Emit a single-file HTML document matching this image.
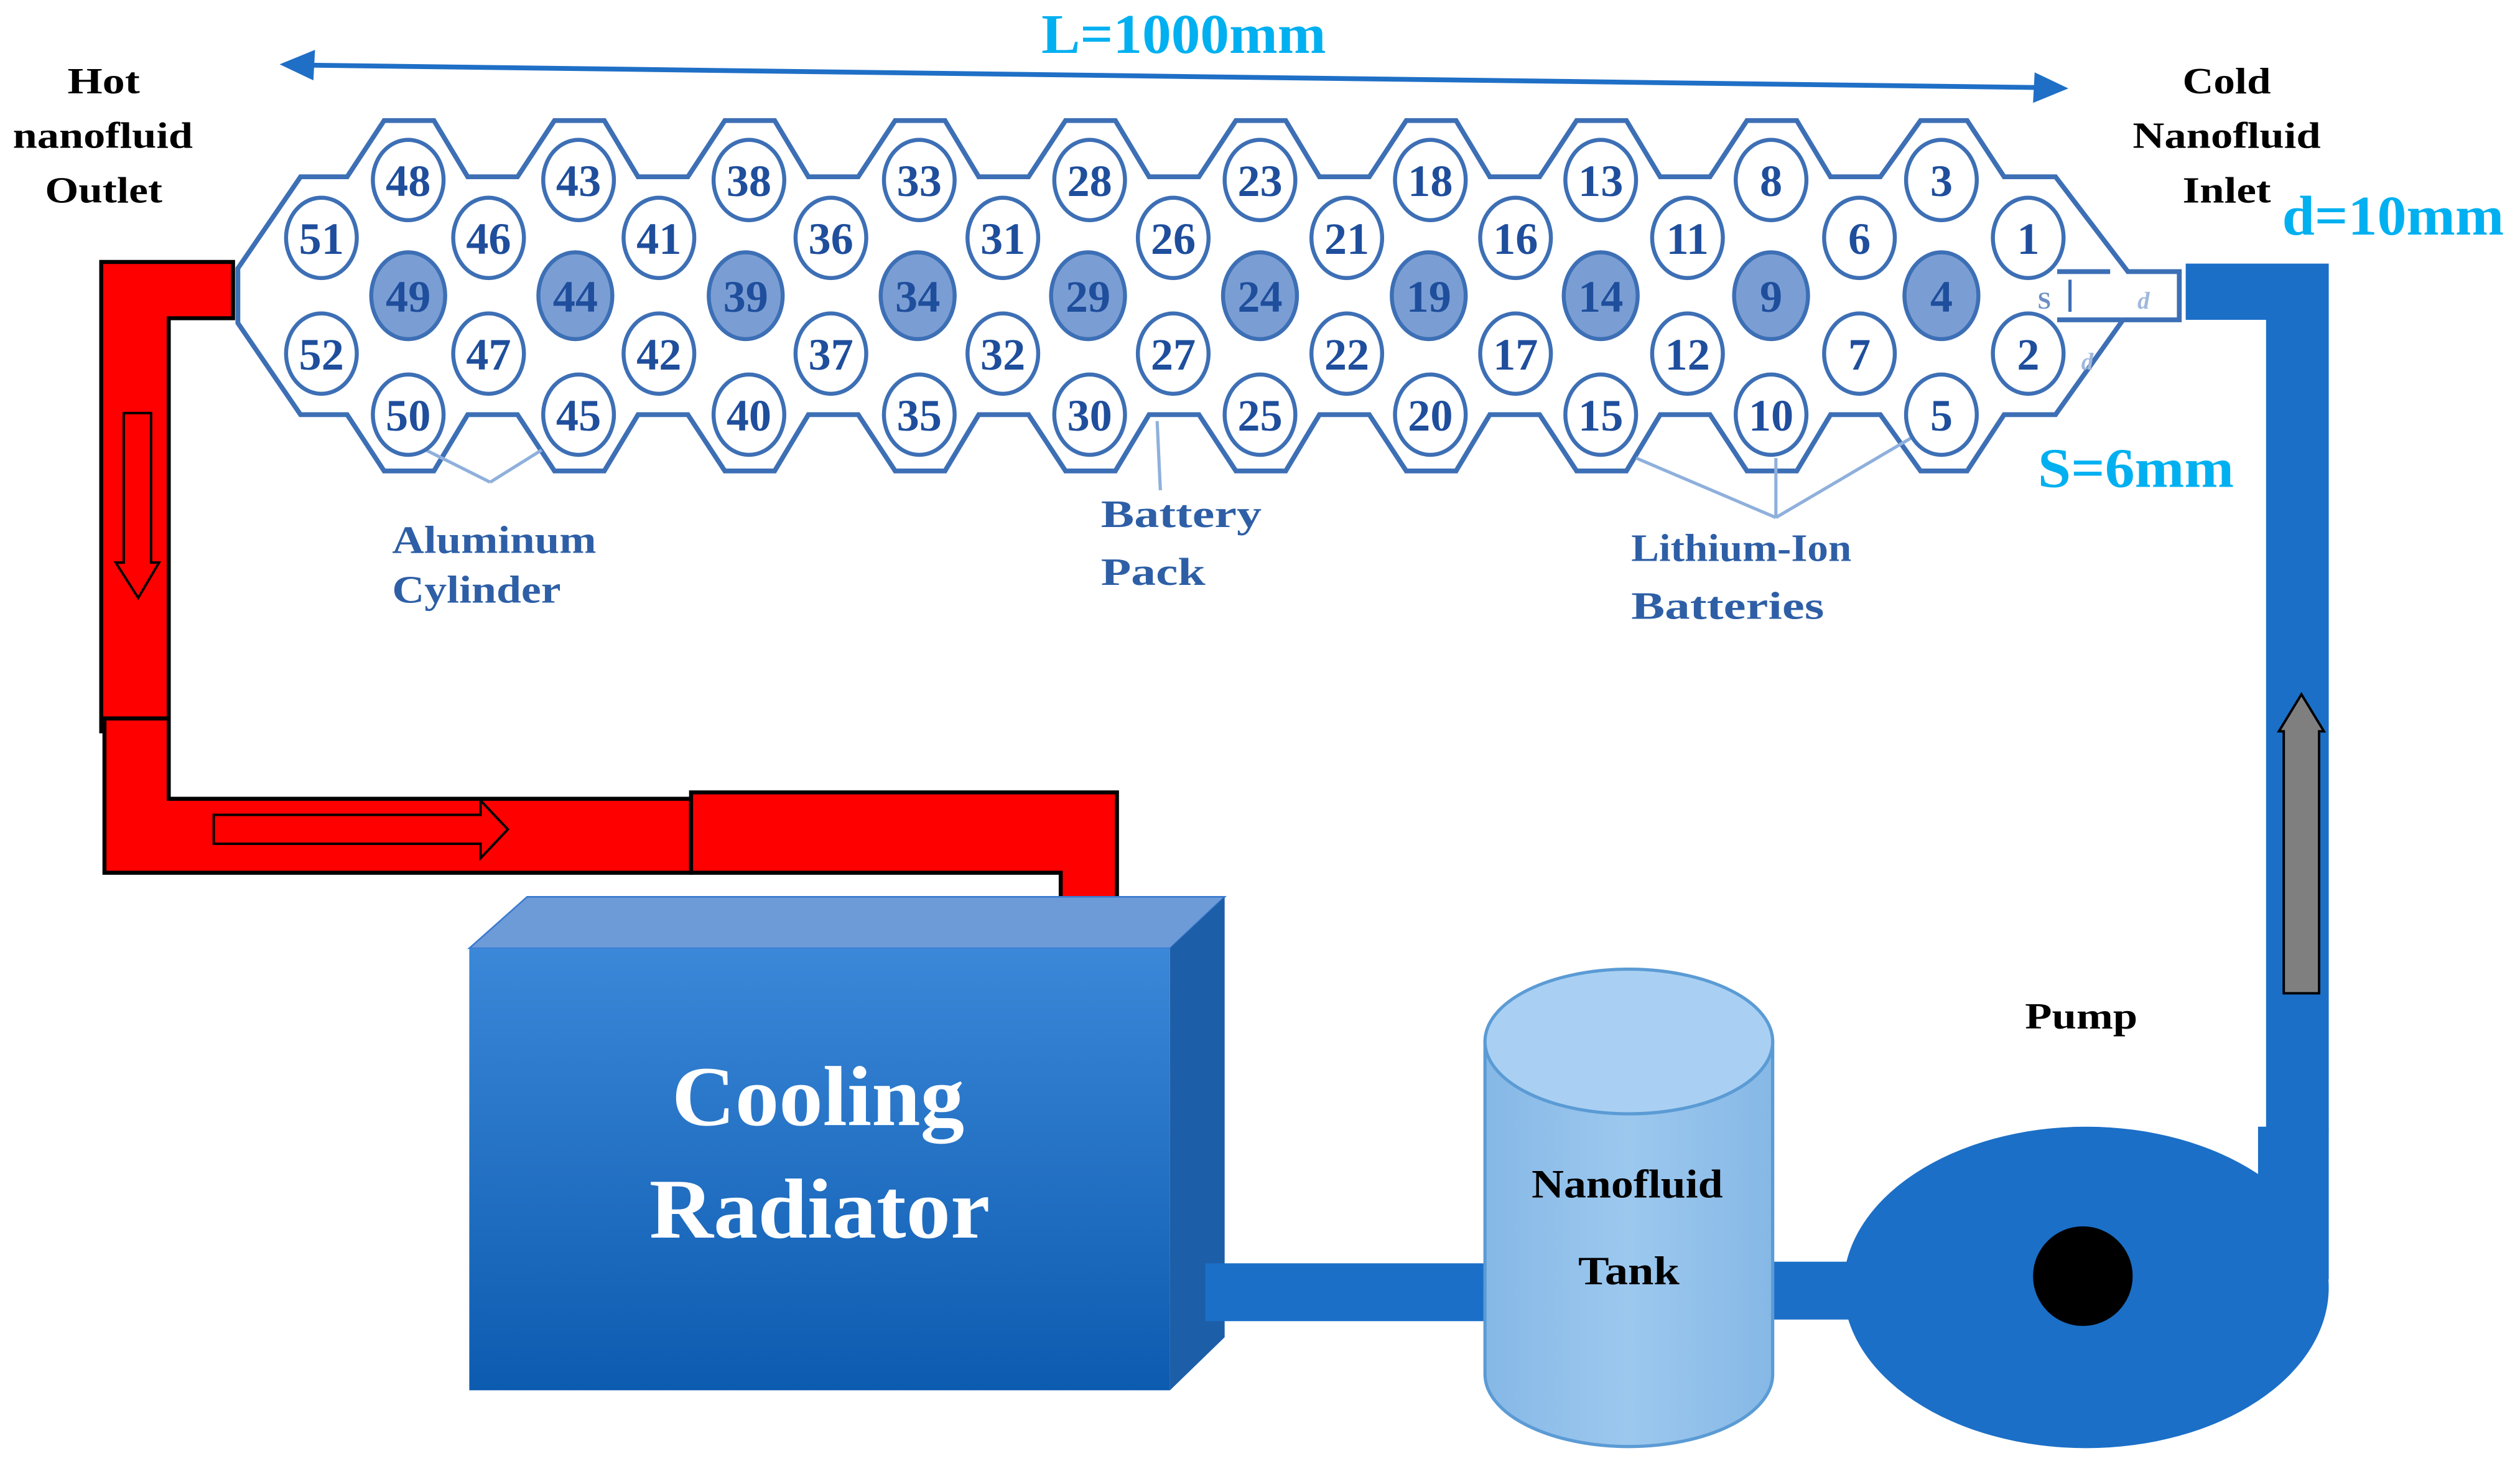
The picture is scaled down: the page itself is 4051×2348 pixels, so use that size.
<!DOCTYPE html>
<html><head><meta charset="utf-8"><style>
html,body{margin:0;padding:0;background:#fff;}
svg{display:block;}
text{font-family:"Liberation Serif",serif;font-weight:bold;}
</style></head><body>
<svg width="4051" height="2348" viewBox="0 0 1568 909" preserveAspectRatio="none" xmlns="http://www.w3.org/2000/svg">
<defs>
<linearGradient id="front" x1="0" y1="0" x2="0" y2="1"><stop offset="0" stop-color="#3b87d8"/><stop offset="1" stop-color="#0c5bb0"/></linearGradient>
<linearGradient id="tank" x1="0" y1="0" x2="1" y2="0"><stop offset="0" stop-color="#86b8e6"/><stop offset="0.5" stop-color="#9cc8ee"/><stop offset="1" stop-color="#86b8e6"/></linearGradient>
</defs>
<rect width="1568" height="909" fill="#fff"/>

<!-- L arrow -->
<line x1="190" y1="40.5" x2="1270" y2="54.5" stroke="#1f6fc6" stroke-width="3"/>
<polygon points="174,40 196,31 195,50" fill="#1f6fc6"/>
<polygon points="1287,55 1265,64 1266,45" fill="#1f6fc6"/>
<text x="648" y="33" font-size="35" fill="#00b0f0" font-weight="normal" textLength="177" lengthAdjust="spacingAndGlyphs">L=1000mm</text>

<text x="42" y="58" font-size="23" textLength="45" lengthAdjust="spacingAndGlyphs">Hot</text>
<text x="8" y="92" font-size="23" textLength="112" lengthAdjust="spacingAndGlyphs">nanofluid</text>
<text x="28" y="126" font-size="23" textLength="73" lengthAdjust="spacingAndGlyphs">Outlet</text>
<text x="1358" y="58" font-size="23" textLength="55" lengthAdjust="spacingAndGlyphs">Cold</text>
<text x="1327" y="92" font-size="23" textLength="117" lengthAdjust="spacingAndGlyphs">Nanofluid</text>
<text x="1358" y="126" font-size="23" textLength="55" lengthAdjust="spacingAndGlyphs">Inlet</text>
<text x="1420" y="146" font-size="35" fill="#00b0f0" font-weight="normal" textLength="138" lengthAdjust="spacingAndGlyphs">d=10mm</text>
<text x="1268" y="303" font-size="35" fill="#00b0f0" font-weight="normal" textLength="122" lengthAdjust="spacingAndGlyphs">S=6mm</text>

<!-- battery pack outline -->
<polygon fill="none" stroke="#3d6fb5" stroke-width="3" stroke-linejoin="miter" points="
148,167 187,110
216,110 239,75 270,75 291,110
322,110 345,75 376,75 397,110
428,110 451,75 482,75 503,110
534,110 557,75 588,75 609,110
640,110 663,75 694,75 715,110
746,110 769,75 800,75 821,110
852,110 875,75 906,75 927,110
958,110 981,75 1012,75 1033,110
1064,110 1087,75 1118,75 1139,110
1170,110 1195,75 1224,75 1247,110
1279,110 1324,169 1356,169 1356,199 1321,199 1279,258
1247,258 1224,293 1195,293 1170,258
1139,258 1118,293 1087,293 1064,258
1033,258 1012,293 981,293 958,258
927,258 906,293 875,293 852,258
821,258 800,293 769,293 746,258
715,258 694,293 663,293 640,258
609,258 588,293 557,293 534,258
503,258 482,293 451,293 428,258
397,258 376,293 345,293 322,258
291,258 270,293 239,293 216,258
187,258 148,201"/>
<line x1="1280" y1="169" x2="1313" y2="169" stroke="#3d6fb5" stroke-width="3"/>
<line x1="1280" y1="199" x2="1320" y2="199" stroke="#3d6fb5" stroke-width="3"/>
<text x="1272" y="192" font-size="15" fill="#6b8fc4" font-weight="normal" text-anchor="middle">S</text>
<line x1="1288" y1="174" x2="1288" y2="194" stroke="#3d6fb5" stroke-width="2"/>
<text x="1330" y="192" font-size="15" fill="#a0b8dc" font-weight="normal" font-style="italic">d</text>
<text x="1295" y="230" font-size="15" fill="#a0b8dc" font-weight="normal" font-style="italic">d</text>

<!-- leader lines -->
<g stroke="#8fb0dc" stroke-width="2">
<line x1="305" y1="300" x2="265" y2="280"/><line x1="305" y1="300" x2="337" y2="280"/>
<line x1="722" y1="305" x2="720" y2="262"/>
<line x1="1105" y1="322" x2="1018" y2="285"/><line x1="1105" y1="322" x2="1105" y2="285"/><line x1="1105" y1="322" x2="1190" y2="272"/>
</g>

<!-- cells -->
<g fill="#fff" stroke="#3d6fb5" stroke-width="2.5">
<ellipse cx="254" cy="112" rx="22" ry="25"/><ellipse cx="360" cy="112" rx="22" ry="25"/><ellipse cx="466" cy="112" rx="22" ry="25"/><ellipse cx="572" cy="112" rx="22" ry="25"/><ellipse cx="678" cy="112" rx="22" ry="25"/><ellipse cx="784" cy="112" rx="22" ry="25"/><ellipse cx="890" cy="112" rx="22" ry="25"/><ellipse cx="996" cy="112" rx="22" ry="25"/><ellipse cx="1102" cy="112" rx="22" ry="25"/><ellipse cx="1208" cy="112" rx="22" ry="25"/>
<ellipse cx="254" cy="258" rx="22" ry="25"/><ellipse cx="360" cy="258" rx="22" ry="25"/><ellipse cx="466" cy="258" rx="22" ry="25"/><ellipse cx="572" cy="258" rx="22" ry="25"/><ellipse cx="678" cy="258" rx="22" ry="25"/><ellipse cx="784" cy="258" rx="22" ry="25"/><ellipse cx="890" cy="258" rx="22" ry="25"/><ellipse cx="996" cy="258" rx="22" ry="25"/><ellipse cx="1102" cy="258" rx="22" ry="25"/><ellipse cx="1208" cy="258" rx="22" ry="25"/>
<ellipse cx="200" cy="148" rx="22" ry="25"/><ellipse cx="304" cy="148" rx="22" ry="25"/><ellipse cx="410" cy="148" rx="22" ry="25"/><ellipse cx="517" cy="148" rx="22" ry="25"/><ellipse cx="624" cy="148" rx="22" ry="25"/><ellipse cx="730" cy="148" rx="22" ry="25"/><ellipse cx="838" cy="148" rx="22" ry="25"/><ellipse cx="943" cy="148" rx="22" ry="25"/><ellipse cx="1050" cy="148" rx="22" ry="25"/><ellipse cx="1157" cy="148" rx="22" ry="25"/><ellipse cx="1262" cy="148" rx="22" ry="25"/>
<ellipse cx="200" cy="220" rx="22" ry="25"/><ellipse cx="304" cy="220" rx="22" ry="25"/><ellipse cx="410" cy="220" rx="22" ry="25"/><ellipse cx="517" cy="220" rx="22" ry="25"/><ellipse cx="624" cy="220" rx="22" ry="25"/><ellipse cx="730" cy="220" rx="22" ry="25"/><ellipse cx="838" cy="220" rx="22" ry="25"/><ellipse cx="943" cy="220" rx="22" ry="25"/><ellipse cx="1050" cy="220" rx="22" ry="25"/><ellipse cx="1157" cy="220" rx="22" ry="25"/><ellipse cx="1262" cy="220" rx="22" ry="25"/>
</g>
<g fill="#7a9ed4" stroke="#3d6fb5" stroke-width="2.5">
<ellipse cx="254" cy="184" rx="23" ry="27"/><ellipse cx="358" cy="184" rx="23" ry="27"/><ellipse cx="464" cy="184" rx="23" ry="27"/><ellipse cx="571" cy="184" rx="23" ry="27"/><ellipse cx="677" cy="184" rx="23" ry="27"/><ellipse cx="784" cy="184" rx="23" ry="27"/><ellipse cx="889" cy="184" rx="23" ry="27"/><ellipse cx="996" cy="184" rx="23" ry="27"/><ellipse cx="1102" cy="184" rx="23" ry="27"/><ellipse cx="1208" cy="184" rx="23" ry="27"/>
</g>
<g font-size="28" fill="#1f4e9c" text-anchor="middle">
<text x="254" y="122">48</text><text x="360" y="122">43</text><text x="466" y="122">38</text><text x="572" y="122">33</text><text x="678" y="122">28</text><text x="784" y="122">23</text><text x="890" y="122">18</text><text x="996" y="122">13</text><text x="1102" y="122">8</text><text x="1208" y="122">3</text>
<text x="254" y="268">50</text><text x="360" y="268">45</text><text x="466" y="268">40</text><text x="572" y="268">35</text><text x="678" y="268">30</text><text x="784" y="268">25</text><text x="890" y="268">20</text><text x="996" y="268">15</text><text x="1102" y="268">10</text><text x="1208" y="268">5</text>
<text x="200" y="158">51</text><text x="304" y="158">46</text><text x="410" y="158">41</text><text x="517" y="158">36</text><text x="624" y="158">31</text><text x="730" y="158">26</text><text x="838" y="158">21</text><text x="943" y="158">16</text><text x="1050" y="158">11</text><text x="1157" y="158">6</text><text x="1262" y="158">1</text>
<text x="200" y="230">52</text><text x="304" y="230">47</text><text x="410" y="230">42</text><text x="517" y="230">37</text><text x="624" y="230">32</text><text x="730" y="230">27</text><text x="838" y="230">22</text><text x="943" y="230">17</text><text x="1050" y="230">12</text><text x="1157" y="230">7</text><text x="1262" y="230">2</text>
<text x="254" y="194">49</text><text x="358" y="194">44</text><text x="464" y="194">39</text><text x="571" y="194">34</text><text x="677" y="194">29</text><text x="784" y="194">24</text><text x="889" y="194">19</text><text x="996" y="194">14</text><text x="1102" y="194">9</text><text x="1208" y="194">4</text>
</g>

<g font-size="24" fill="#2e5fa6">
<text x="244" y="344" textLength="127" lengthAdjust="spacingAndGlyphs">Aluminum</text><text x="244" y="375" textLength="105" lengthAdjust="spacingAndGlyphs">Cylinder</text>
<text x="685" y="328" textLength="100" lengthAdjust="spacingAndGlyphs">Battery</text><text x="685" y="364" textLength="65" lengthAdjust="spacingAndGlyphs">Pack</text>
<text x="1015" y="349" textLength="137" lengthAdjust="spacingAndGlyphs">Lithium-Ion</text><text x="1015" y="385" textLength="120" lengthAdjust="spacingAndGlyphs">Batteries</text>
</g>

<!-- red pipe -->
<g fill="#ff0000" stroke="#000" stroke-width="2.5">
<polygon points="63,163 145,163 145,198 105,198 105,455 63,455"/>
<polygon points="65,447 105,447 105,497 430,497 430,543 65,543"/>
<polygon points="430,493 695,493 695,562 660,562 660,543 430,543"/>
</g>
<g fill="#ff0000" stroke="#000" stroke-width="1.5">
<polygon points="77,257 94,257 94,350 99,350 86,372 72,350 77,350"/>
<polygon points="133,507 299,507 299,498 316,516 299,534 299,525 133,525"/>
</g>

<!-- blue inlet pipe -->
<polygon points="1360,164 1449,164 1449,705 1410,705 1410,199 1360,199" fill="#1b6fc7"/>
<polygon points="1421,618 1421,455 1418,455 1432,432 1446,455 1443,455 1443,618" fill="#7f7f7f" stroke="#000" stroke-width="1.5"/>
<text x="1260" y="640" font-size="23" textLength="70" lengthAdjust="spacingAndGlyphs">Pump</text>

<!-- radiator -->
<polygon points="292,590 328,558 762,558 728,590" fill="#6d9bd8" stroke="#3a7ad0" stroke-width="1"/>
<polygon points="728,590 762,558 762,832 728,865" fill="#1d5ea8"/>
<rect x="292" y="590" width="436" height="275" fill="url(#front)"/>
<text x="418" y="700" font-size="53" fill="#fff" textLength="182" lengthAdjust="spacingAndGlyphs">Cooling</text>
<text x="404" y="770" font-size="53" fill="#fff" textLength="212" lengthAdjust="spacingAndGlyphs">Radiator</text>

<!-- pipes -->
<rect x="750" y="786" width="176" height="36" fill="#1b6fc7"/>
<rect x="1100" y="785" width="52" height="36" fill="#1b6fc7"/>

<!-- tank -->
<path d="M924,648 L924,855 A89.5,45 0 0 0 1103,855 L1103,648 Z" fill="url(#tank)" stroke="#5b9bd5" stroke-width="2"/>
<ellipse cx="1013.5" cy="648" rx="89.5" ry="45" fill="#a9d0f2" stroke="#5b9bd5" stroke-width="2"/>
<text x="953" y="745" font-size="25" textLength="119" lengthAdjust="spacingAndGlyphs">Nanofluid</text>
<text x="982" y="799" font-size="25" textLength="63" lengthAdjust="spacingAndGlyphs">Tank</text>

<!-- pump -->
<rect x="1405" y="701" width="44" height="95" fill="#1b6fc7"/>
<ellipse cx="1298" cy="801" rx="151" ry="100" fill="#1b6fc7"/>
<circle cx="1296" cy="794" r="31" fill="#000"/>
</svg>
</body></html>
